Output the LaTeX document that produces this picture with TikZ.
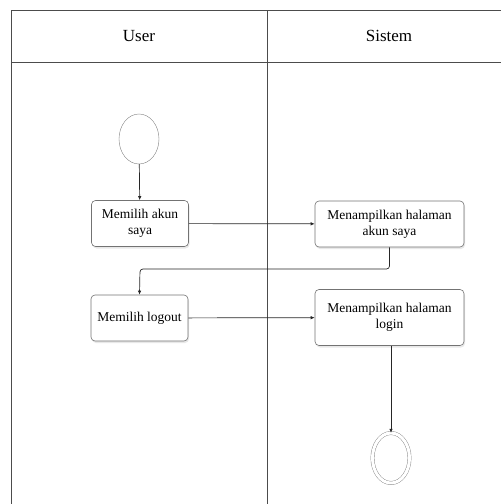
\documentclass[tikz,border=0pt]{standalone}
\usepackage{fontspec}
\setmainfont{Liberation Serif}
\usetikzlibrary{shadows,arrows.meta,shapes.geometric}
\begin{document}
\begin{tikzpicture}[x=1pt,y=-1pt,
  lane/.style={draw=black!70,line width=0.8pt},
  act/.style={draw=black!55,rounded corners=4pt,fill=white,line width=0.6pt,
    minimum height=46pt,align=center,font=\fontsize{13.5}{16}\selectfont,
    drop shadow={shadow xshift=1pt,shadow yshift=-2pt,opacity=0.18}},
  flow/.style={draw=black!85,line width=0.7pt,-{Latex[length=4pt,width=3.5pt]}},
  hdr/.style={font=\fontsize{17}{19}\selectfont}]
\useasboundingbox (0,0) rectangle (501,504);
% swimlane frame
\draw[lane] (11,504) -- (11,10) -- (501,10);
\draw[lane] (11,62) -- (501,62);
\draw[lane] (267,10) -- (267,504);
\node[hdr] (huser) at (139,36) {User};
\node[hdr] (hsis) at (389,36) {Sistem};
% start node
\node[draw=black!50,ellipse,minimum width=40pt,minimum height=50pt,inner sep=0pt,fill=white] (start) at (139,139) {};
% activities
\node[act,minimum width=97pt] (a1) at (140,223.5) {Memilih akun\\saya};
\node[act,minimum width=149pt] (a2) at (389.5,224) {Menampilkan halaman\\akun saya};
\node[act,minimum width=97pt] (a3) at (139.5,318) {Memilih logout};
\node[act,minimum width=149pt,minimum height=56pt] (a4) at (389.5,317.5) {Menampilkan halaman\\login};
% end node
\node[draw=black!50,ellipse,minimum width=37pt,minimum height=50pt,inner sep=0pt,fill=white,
  double=white,double distance=3pt] (stop) at (391,458) {};
% flows
\draw[flow] (start) -- (a1);
\draw[flow] (a1) -- (a2);
\draw[flow,rounded corners=3pt] (a2.south) |- (140,269) -- (a3.north);
\draw[flow] (a3) -- (a4);
\draw[flow] (a4.south -| stop.north) -- (stop.north);
\end{tikzpicture}
\end{document}
